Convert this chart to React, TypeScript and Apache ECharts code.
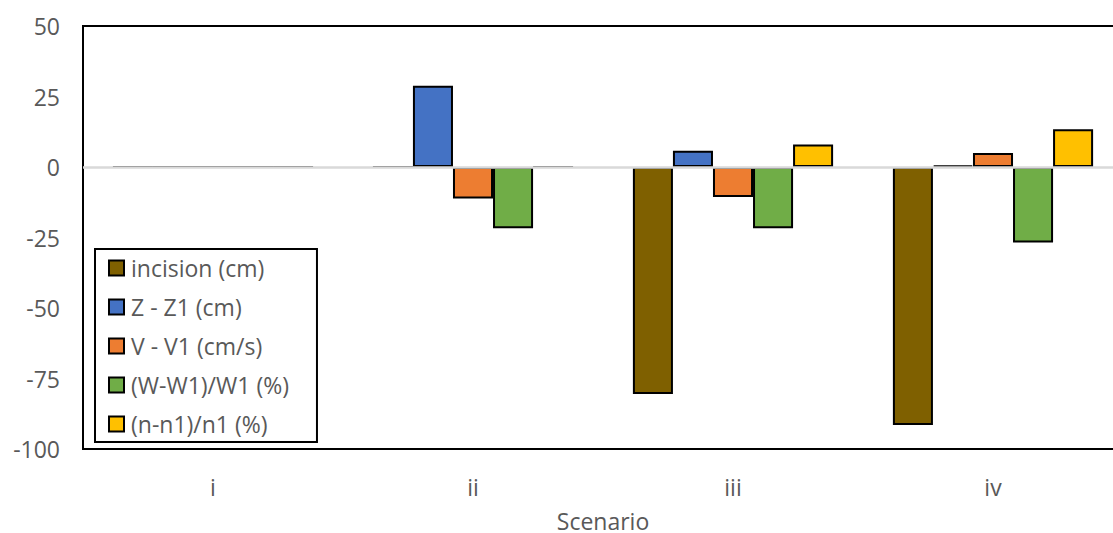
import React, { useEffect, useRef } from "react";
import * as echarts from "echarts";

const categories = ["i", "ii", "iii", "iv"];
const seriesNames = ["incision (cm)", "Z - Z1 (cm)", "V - V1 (cm/s)", "(W-W1)/W1 (%)", "(n-n1)/n1 (%)"];
const incision = [0, 0, -80.5, -91.5];
const zDiff = [0, 28.8, 5.8, 0.5];
const vDiff = [0, -11.2, -10.6, 5];
const wRel = [0, -21.7, -21.7, -26.8];
const nRel = [0, 0, 8, 13.4];
const colors = ["#7F6000", "#4472C4", "#ED7D31", "#70AD47", "#FFC000"];
const yTicks = { min: -100, max: 50, interval: 25 };

const FONT = "Open Sans";
const TXT = "#595959";

export default function App() {
  const ref = useRef<HTMLDivElement>(null);
  useEffect(() => {
    if (!ref.current) return;
    const chart = echarts.init(ref.current, undefined, { renderer: "svg" });
    const data = [incision, zDiff, vDiff, wRel, nRel];
    chart.setOption({
      animation: false,
      textStyle: { fontFamily: FONT },
      grid: {
        left: 83,
        top: 26,
        width: 1040,
        bottom: 84,
        outerBoundsMode: "none",
        containLabel: false,
        show: true,
        borderColor: "#000",
        borderWidth: 2,
        backgroundColor: "transparent",
      },
      legend: {
        orient: "vertical",
        left: 95,
        top: 249,
        data: seriesNames,
        icon: "rect",
        itemWidth: 15,
        itemHeight: 15,
        itemGap: 15,
        padding: [7, 28, 6, 13],
        borderColor: "#000",
        borderWidth: 2,
        backgroundColor: "#fff",
        textStyle: { color: TXT, fontSize: 23, lineHeight: 24, fontFamily: FONT, padding: [0, 0, 0, 2] },
      },
      xAxis: {
        type: "category",
        data: categories,
        name: "Scenario",
        nameLocation: "middle",
        nameGap: 60,
        nameTextStyle: { color: TXT, fontSize: 23, fontFamily: FONT },
        axisLine: { show: false },
        axisTick: { show: false },
        axisLabel: { color: TXT, fontSize: 23, margin: 26, fontFamily: FONT },
      },
      yAxis: {
        type: "value",
        min: yTicks.min,
        max: yTicks.max,
        interval: yTicks.interval,
        axisLine: { show: false },
        axisTick: { show: false },
        splitLine: { show: false },
        axisLabel: { color: TXT, fontSize: 23, margin: 23, fontFamily: FONT },
      },
      series: seriesNames.map((name, i) => ({
        name,
        type: "bar",
        data: data[i],
        barGap: "0%",
        barCategoryGap: "23%",
        itemStyle: { color: colors[i], borderColor: "#000", borderWidth: 2 },
        ...(i === 4
          ? {
              markLine: {
                silent: true,
                symbol: "none",
                label: { show: false },
                lineStyle: { color: "#D9D9D9", width: 2.5, type: "solid" },
                data: [{ yAxis: 0 }],
              },
            }
          : {}),
      })),
    });
    return () => chart.dispose();
  }, []);
  return (
    <div
      ref={ref}
      style={{ position: "fixed", left: 0, top: 0, width: 1113, height: 533, background: "#fff" }}
    />
  );
}
